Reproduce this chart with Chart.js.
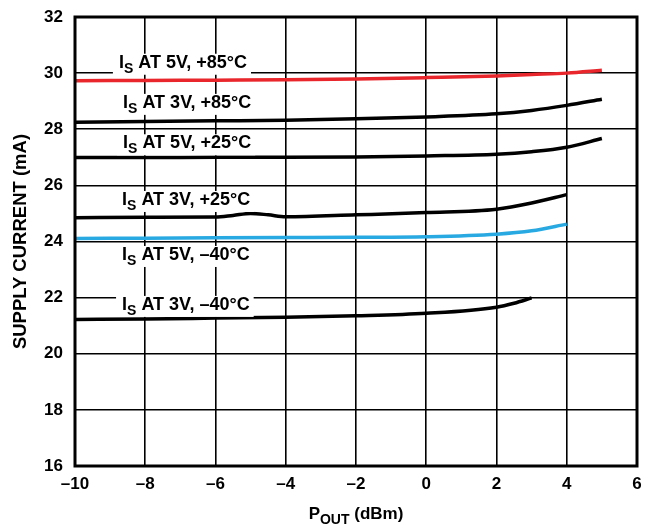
<!DOCTYPE html>
<html><head><meta charset="utf-8">
<script src="https://cdn.jsdelivr.net/npm/chart.js@4"></script>
<style>html,body{margin:0;padding:0;background:#fff}#w{width:662px;height:529px}</style>
</head><body><div id="w"><canvas id="c" width="662" height="529"></canvas></div>
<script>
// X-axis tick labels and Y-axis ticks
const xTicks = [-10,-8,-6,-4,-2,0,2,4,6];
const yTicks = [16,18,20,22,24,26,28,30,32];

// Series: Pout (dBm) and supply current (mA)
const x5V85 = [-10,-8,-6,-4,-2,0,2,3,4,5];
const y5V85 = [29.73,29.74,29.75,29.76,29.79,29.84,29.9,29.95,30.0,30.1];
const x3V85 = [-10,-8,-6,-4,-2,0,2,3,4,5];
const y3V85 = [28.25,28.28,28.3,28.32,28.37,28.44,28.55,28.67,28.85,29.07];
const x5V25 = [-10,-8,-6,-4,-2,0,2,3,4,5];
const y5V25 = [26.99,26.99,27.0,27.0,27.01,27.05,27.11,27.2,27.36,27.67];
const x3V25 = [-10,-8,-6,-5.5,-5,-4.5,-4,-2,0,2,3,4];
const y3V25 = [24.85,24.86,24.87,24.93,25.0,24.95,24.88,24.95,25.03,25.15,25.37,25.67];
const x5Vm40 = [-10,-8,-6,-4,-2,0,2,3,4];
const y5Vm40 = [24.11,24.12,24.13,24.14,24.15,24.17,24.26,24.38,24.62];
const x3Vm40 = [-10,-8,-6,-4,-2,0,2,2.5,3];
const y3Vm40 = [21.22,21.24,21.27,21.3,21.35,21.44,21.66,21.8,21.99];

// Curve labels: "I" + subscript "S" + rest, anchored at data coords (left, middle)
const labelRest = [" AT 5V, +85°C"," AT 3V, +85°C"," AT 5V, +25°C"," AT 3V, +25°C"," AT 5V, –40°C"," AT 3V, –40°C"];
const labelX = [-8.75,-8.63,-8.63,-8.66,-8.66,-8.66];
const labelY = [30.37,28.94,27.5,25.48,23.52,21.74];

const RED = '#e8262b', BLUE = '#29a9e1', BLACK = '#000000';
const pts = (xs, ys) => xs.map((x, i) => ({x, y: ys[i]}));
const ds = (xs, ys, c) => ({data: pts(xs, ys), borderColor: c, borderWidth: 3.5, pointRadius: 0, fill: false, tension: 0.4, cubicInterpolationMode: 'monotone'});

const FONT = '"Liberation Sans", Arial, sans-serif';
const LBL = 18, SUB = 14;

const overlay = {
  id: 'overlay',
  afterDatasetsDraw(chart) {
    const ctx = chart.ctx, xs = chart.scales.x, ys = chart.scales.y, a = chart.chartArea;
    ctx.save();
    for (let i = 0; i < labelRest.length; i++) {
      const px = xs.getPixelForValue(labelX[i]), py = ys.getPixelForValue(labelY[i]);
      ctx.font = 'bold ' + LBL + 'px ' + FONT;
      const wI = ctx.measureText('I').width;
      const wR = ctx.measureText(labelRest[i]).width;
      ctx.font = 'bold ' + SUB + 'px ' + FONT;
      const wS = ctx.measureText('S').width;
      const tw = wI + wS + wR;
      ctx.fillStyle = '#fff';
      ctx.fillRect(px - 6, py - 9, tw + 10, 21);
      ctx.fillStyle = '#000';
      ctx.textBaseline = 'middle';
      ctx.textAlign = 'left';
      ctx.font = 'bold ' + LBL + 'px ' + FONT;
      ctx.fillText('I', px, py);
      ctx.font = 'bold ' + SUB + 'px ' + FONT;
      ctx.fillText('S', px + wI, py + 6);
      ctx.font = 'bold ' + LBL + 'px ' + FONT;
      ctx.fillText(labelRest[i], px + wI + wS, py);
    }
    ctx.strokeStyle = '#000';
    ctx.lineWidth = 3;
    ctx.strokeRect(a.left, a.top, a.right - a.left, a.bottom - a.top);
    // x title
    ctx.fillStyle = '#000';
    ctx.textBaseline = 'alphabetic';
    ctx.font = 'bold 17px ' + FONT;
    const t1 = 'P', t3 = ' (dBm)';
    const w1 = ctx.measureText(t1).width, w3 = ctx.measureText(t3).width;
    ctx.font = 'bold 14px ' + FONT;
    const w2 = ctx.measureText('OUT').width;
    const cx = (a.left + a.right) / 2;
    const sx = cx - (w1 + w2 + w3) / 2;
    const by = 519;
    ctx.font = 'bold 17px ' + FONT;
    ctx.fillText(t1, sx, by);
    ctx.font = 'bold 14px ' + FONT;
    ctx.fillText('OUT', sx + w1, by + 5);
    ctx.font = 'bold 17px ' + FONT;
    ctx.fillText(t3, sx + w1 + w2, by);
    // y title
    ctx.translate(21, (a.top + a.bottom) / 2);
    ctx.rotate(-Math.PI / 2);
    ctx.textAlign = 'center';
    ctx.textBaseline = 'middle';
    ctx.font = 'bold 18.5px ' + FONT;
    ctx.fillText('SUPPLY CURRENT (mA)', 0, 0);
    ctx.restore();
  }
};

new Chart(document.getElementById('c'), {
  type: 'line',
  data: {datasets: [ds(x5V85, y5V85, RED), ds(x3V85, y3V85, BLACK), ds(x5V25, y5V25, BLACK), ds(x3V25, y3V25, BLACK), ds(x5Vm40, y5Vm40, BLUE), ds(x3Vm40, y3Vm40, BLACK)]},
  options: {
    responsive: false, animation: false, devicePixelRatio: 1,
    layout: {padding: {left: 30, right: 25, top: 17, bottom: 0}},
    plugins: {legend: {display: false}, tooltip: {enabled: false}},
    scales: {
      x: {type: 'linear', min: -10, max: 6,
        afterBuildTicks: s => { s.ticks = xTicks.map(v => ({value: v})); },
        afterFit: s => { s.height = 63; s.paddingLeft = 0; s.paddingRight = 0; },
        grid: {color: '#000', lineWidth: 1.6, drawTicks: false},
        border: {display: false},
        ticks: {color: '#000', padding: 8, font: {family: FONT, size: 17, weight: 'bold'}, callback: v => v < 0 ? '–' + Math.abs(v) : String(v), maxRotation: 0}
      },
      y: {type: 'linear', min: 16, max: 32,
        afterBuildTicks: s => { s.ticks = yTicks.map(v => ({value: v})); },
        afterFit: s => { s.width = 45; s.paddingTop = 0; s.paddingBottom = 0; },
        grid: {color: '#000', lineWidth: 1.6, drawTicks: false},
        border: {display: false},
        ticks: {color: '#000', padding: 12, font: {family: FONT, size: 17, weight: 'bold'}}
      }
    }
  },
  plugins: [overlay]
});
</script></body></html>
